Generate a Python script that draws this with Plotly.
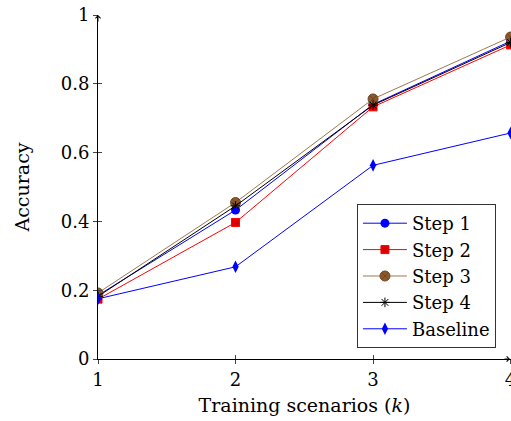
import plotly.graph_objects as go

x_vals = [1, 2, 3, 4]
step1 = [0.185, 0.433, 0.740, 0.924]
step2 = [0.174, 0.397, 0.733, 0.913]
step3 = [0.192, 0.455, 0.756, 0.936]
step4 = [0.182, 0.445, 0.738, 0.920]
baseline = [0.175, 0.268, 0.563, 0.657]

x_ticks = [1, 2, 3, 4]
y_ticks = [0, 0.2, 0.4, 0.6, 0.8, 1]
y_tick_labels = ["0", "0.2", "0.4", "0.6", "0.8", "1"]

FONT = "DejaVu Serif"
FS = 18
TFS = 19

fig = go.Figure()
fig.add_trace(go.Scatter(x=x_vals, y=step1, name="Step 1", mode="lines+markers",
                         line=dict(color="#0000FF", width=1),
                         marker=dict(symbol="circle", size=9, color="#0000FF")))
fig.add_trace(go.Scatter(x=x_vals, y=step2, name="Step 2", mode="lines+markers",
                         line=dict(color="#FF0000", width=1),
                         marker=dict(symbol="square", size=8, color="#DD0000",
                                     line=dict(color="#FF0000", width=1))))
fig.add_trace(go.Scatter(x=x_vals, y=step3, name="Step 3", mode="lines+markers",
                         line=dict(color="#A0784E", width=1),
                         marker=dict(symbol="circle-x", size=10, color="#8C5A2E",
                                     line=dict(color="#6E4722", width=1))))
fig.add_trace(go.Scatter(x=x_vals, y=step4, name="Step 4", mode="lines+markers",
                         line=dict(color="#000000", width=1),
                         marker=dict(symbol="asterisk-open", size=8,
                                     line=dict(color="#000000", width=1))))
fig.add_trace(go.Scatter(x=x_vals, y=baseline, name="Baseline", mode="lines+markers",
                         line=dict(color="#0000FF", width=1),
                         marker=dict(symbol="diamond-tall", size=9, color="#0000FF")))
# empty trace to activate overlay axes (for inner tick halves)
fig.add_trace(go.Scatter(x=[], y=[], xaxis="x2", yaxis="y2", showlegend=False,
                         hoverinfo="skip"))

X_RANGE = [1, 4.003]
Y_RANGE = [0, 1]

axis_common = dict(showgrid=False, zeroline=False, showline=True,
                   linecolor="black", linewidth=1,
                   ticks="outside", ticklen=4, tickcolor="#444", tickwidth=1,
                   ticklabeloverflow="allow", automargin=False,
                   tickfont=dict(family=FONT, size=FS, color="black"))

fig.update_layout(
    width=511, height=421,
    margin=dict(l=98, r=0, t=15, b=62, autoexpand=False),
    paper_bgcolor="white", plot_bgcolor="white",
    font=dict(family=FONT, size=FS, color="black"),
    xaxis=dict(range=X_RANGE, tickmode="array", tickvals=x_ticks,
               title=dict(text="Training scenarios (<i>k</i>)", font=dict(family=FONT, size=TFS),
                          standoff=10),
               **axis_common),
    yaxis=dict(range=Y_RANGE, tickmode="array", tickvals=y_ticks, ticktext=y_tick_labels,
               title=dict(text="Accuracy", font=dict(family=FONT, size=TFS), standoff=26),
               **axis_common),
    xaxis2=dict(range=X_RANGE, overlaying="x", tickmode="array", tickvals=x_ticks,
                ticks="inside", ticklen=4, tickcolor="#444", tickwidth=1,
                showticklabels=False, showgrid=False, zeroline=False, showline=False),
    yaxis2=dict(range=Y_RANGE, overlaying="y", tickmode="array", tickvals=y_ticks,
                ticks="inside", ticklen=4, tickcolor="#444", tickwidth=1,
                showticklabels=False, showgrid=False, zeroline=False, showline=False),
    legend=dict(x=0.627, y=0.032, xanchor="left", yanchor="bottom",
                bgcolor="white", bordercolor="#333", borderwidth=1,
                font=dict(family=FONT, size=FS), tracegroupgap=0,
                itemwidth=44),
    showlegend=True,
)

# axis arrows
fig.add_annotation(x=1, y=1, xref="x", yref="y", ax=0, ay=8,
                   showarrow=True, arrowhead=4, arrowsize=1, arrowwidth=1,
                   arrowcolor="black", text="")
fig.add_annotation(x=1, y=0, xref="paper", yref="y", ax=-8, ay=0,
                   showarrow=True, arrowhead=4, arrowsize=1, arrowwidth=1,
                   arrowcolor="black", text="")

fig.write_html("out.html", config={"displayModeBar": False},
               post_script="document.body.style.margin='0';document.body.style.overflow='hidden';")
